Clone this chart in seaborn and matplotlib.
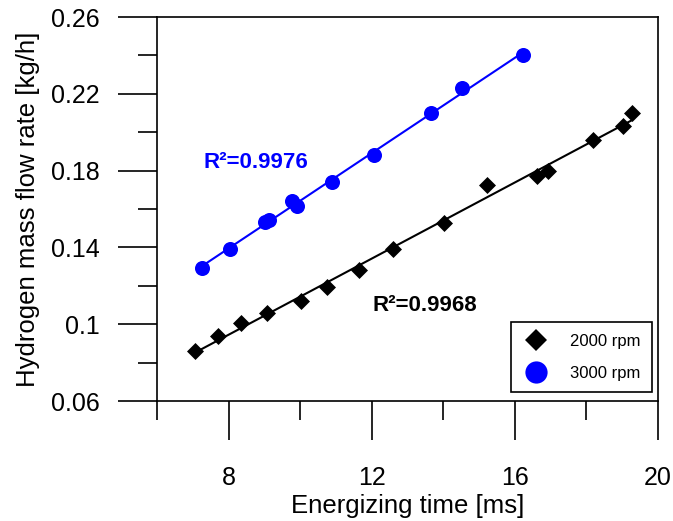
import numpy as np
import pandas as pd
import matplotlib
matplotlib.use("Agg")
import matplotlib.pyplot as plt
from matplotlib.lines import Line2D
from matplotlib.ticker import FixedLocator, FixedFormatter
import seaborn as sns

# Energizing time [ms] vs hydrogen mass flow rate [kg/h] at two engine speeds
time_2000 = [7.06, 7.71, 8.34, 9.08, 10.01, 10.76, 11.65, 12.60, 14.03,
             15.23, 16.61, 16.93, 18.19, 19.01, 19.27]
flow_2000 = [0.0858, 0.0939, 0.1004, 0.1057, 0.1123, 0.1192, 0.1282, 0.1390,
             0.1528, 0.1725, 0.1774, 0.1798, 0.1957, 0.2035, 0.2098]
time_3000 = [7.27, 8.04, 9.02, 9.13, 9.76, 9.90, 10.89, 12.06, 13.65, 14.53, 16.23]
flow_3000 = [0.1295, 0.1393, 0.1531, 0.1545, 0.1644, 0.1615, 0.1739, 0.1879,
             0.2100, 0.2231, 0.2401]

series_labels = ["2000 rpm", "3000 rpm"]
r2_labels = ["R\u00b2=0.9968", "R\u00b2=0.9976"]

x_major = [8, 12, 16, 20]
x_major_labels = ["8", "12", "16", "20"]
x_minor = [6, 10, 14, 18]
y_major = [0.06, 0.10, 0.14, 0.18, 0.22, 0.26]
y_major_labels = ["0.06", "0.1", "0.14", "0.18", "0.22", "0.26"]
y_minor = [0.08, 0.12, 0.16, 0.20, 0.24]

BLUE = "#0000FF"
BLACK = "#000000"

sns.set_style("ticks")
plt.rcParams["font.family"] = ["Liberation Sans", "DejaVu Sans"]
plt.rcParams["text.color"] = BLACK
plt.rcParams["axes.labelcolor"] = BLACK
plt.rcParams["xtick.color"] = BLACK
plt.rcParams["ytick.color"] = BLACK

df_2000 = pd.DataFrame({"time": time_2000, "flow": flow_2000})
df_3000 = pd.DataFrame({"time": time_3000, "flow": flow_3000})

fig = plt.figure(figsize=(6.73, 5.21), dpi=100)
ax = fig.add_axes([0.2333, 0.2303, 0.7444, 0.7370])

# linear fits
sns.regplot(data=df_3000, x="time", y="flow", ax=ax, scatter=False, ci=None,
            truncate=True, line_kws=dict(color=BLUE, lw=1.5, zorder=2))
sns.regplot(data=df_2000, x="time", y="flow", ax=ax, scatter=False, ci=None,
            truncate=True, line_kws=dict(color=BLACK, lw=1.5, zorder=2))

# measured points
sns.scatterplot(data=df_3000, x="time", y="flow", ax=ax, marker="o", s=117,
                color=BLUE, linewidth=0, zorder=3, legend=False)
sns.scatterplot(data=df_2000, x="time", y="flow", ax=ax, marker="D", s=75,
                color=BLACK, linewidth=0, zorder=3, legend=False)

ax.set_xlim(6, 20)
ax.set_ylim(0.06, 0.26)

ax.xaxis.set_major_locator(FixedLocator(x_major))
ax.xaxis.set_major_formatter(FixedFormatter(x_major_labels))
ax.xaxis.set_minor_locator(FixedLocator(x_minor))
ax.yaxis.set_major_locator(FixedLocator(y_major))
ax.yaxis.set_major_formatter(FixedFormatter(y_major_labels))
ax.yaxis.set_minor_locator(FixedLocator(y_minor))

ax.tick_params(axis="both", which="major", direction="out", length=28, width=1.2,
               colors=BLACK, labelsize=18, top=False, right=False)
ax.tick_params(axis="both", which="minor", direction="out", length=14, width=1.2,
               colors=BLACK, top=False, right=False)
ax.tick_params(axis="y", which="major", pad=13)
ax.tick_params(axis="x", which="major", pad=19)

for side in ["left", "right", "top", "bottom"]:
    ax.spines[side].set_visible(True)
    ax.spines[side].set_linewidth(1.2)
    ax.spines[side].set_color(BLACK)

ax.set_xlabel("Energizing time [ms]", fontsize=18.5, labelpad=3)
ax.set_ylabel("Hydrogen mass flow rate [kg/h]", fontsize=18.5, labelpad=8)

ax.text(12.03, 0.110, r2_labels[0], color=BLACK, fontsize=16,
        fontweight="bold", va="center", ha="left")
ax.text(7.29, 0.184, r2_labels[1], color=BLUE, fontsize=16,
        fontweight="bold", va="center", ha="left")

handles = [
    Line2D([], [], marker="D", ls="", color=BLACK, markersize=11, markeredgewidth=0),
    Line2D([], [], marker="o", ls="", color=BLUE, markersize=16, markeredgewidth=0),
]
leg = ax.legend(handles, series_labels, loc="lower right",
                bbox_to_anchor=(0.988, 0.023), borderaxespad=0, fontsize=12,
                frameon=True, fancybox=False, edgecolor=BLACK, framealpha=1,
                borderpad=0.7, labelspacing=1.0, handlelength=1.6,
                handletextpad=1.2)
leg.get_frame().set_linewidth(1.2)

fig.savefig("out.png", dpi=100)
